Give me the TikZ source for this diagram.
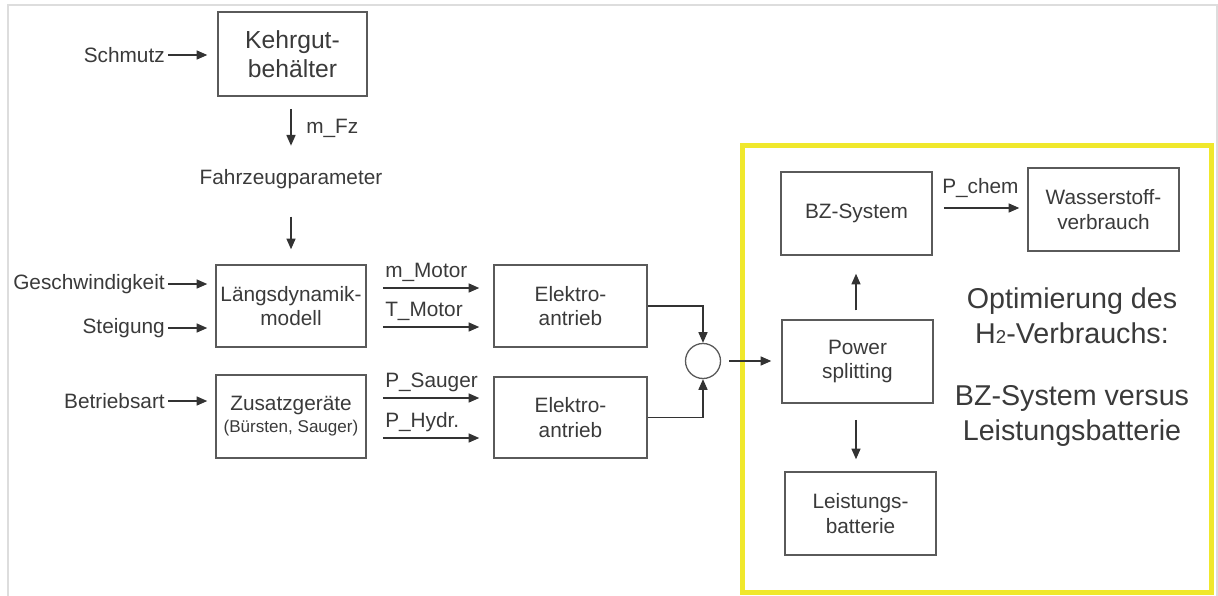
\documentclass[tikz,border=0pt]{standalone}
\usepackage{fontspec}
\setmainfont{Liberation Sans}
\usetikzlibrary{arrows.meta}
\newdimen\upx \upx=0.75pt
\definecolor{txt}{HTML}{3A3A3A}
\definecolor{boxc}{HTML}{5A5A5A}
\definecolor{lin}{HTML}{333333}
\definecolor{yel}{HTML}{F0E82C}
\definecolor{frm}{HTML}{DDDDDD}
\newcommand\fsnorm{\fontsize{15.6}{18.5}\selectfont}
\newcommand\fskehr{\fontsize{18.5}{22}\selectfont}
\newcommand\fssmall{\fontsize{12.8}{15}\selectfont}
\newcommand\fsbig{\fontsize{21.5}{26}\selectfont}
\begin{document}
\begin{tikzpicture}[x=0.75pt,y=-0.75pt,
  box/.style={draw=boxc, line width=1.5\upx, minimum width=151\upx, minimum height=83\upx,
    align=center, text=txt, font=\fsnorm, inner sep=0pt},
  lab/.style={text=txt, font=\fsnorm, inner sep=0pt},
  arr/.style={draw=lin, line width=1.3\upx, -{Triangle[length=8pt,width=6.8pt]}}]
\useasboundingbox (0,0) rectangle (1218,596);
\draw[frm, line width=1.5\upx] (8,596) -- (8,5) -- (1217,5) -- (1217,596);
\draw[yel, line width=5\upx] (742,145) rectangle (1211,592);

% left column
\node[box, font=\fskehr, minimum width=149\upx, minimum height=84\upx] (kehr) at (292.5,54) {Kehrgut-\\behälter};
\node[lab, anchor=east] (schmutz) at (165,55) {Schmutz};
\draw[arr, shorten <=3\upx, shorten >=10\upx] (schmutz.east) -- (schmutz.east -| kehr.west);
\node[lab, anchor=base] (fzp) at (291,184) {Fahrzeugparameter};
\draw[arr, shorten <=12\upx, shorten >=23\upx] (kehr.south -| fzp.north) -- (fzp.north);
\node[lab, anchor=base west] (mfz) at (306,133) {m\_Fz};

\node[box, minimum width=150\upx, minimum height=82\upx] (laengs) at (291,306) {Längsdynamik-\\modell};
\draw[arr, shorten <=28\upx, shorten >=15\upx] (fzp.south) -- (fzp.south |- laengs.north);
\node[lab, anchor=east] (gesch) at (165,284) {Geschwindigkeit};
\node[lab, anchor=east] (steig) at (165,328) {Steigung};
\draw[arr, shorten <=3\upx, shorten >=8\upx] (gesch.east) -- (gesch.east -| laengs.west);
\draw[arr, shorten <=3\upx, shorten >=8\upx] (steig.east) -- (steig.east -| laengs.west);

\node[box, minimum width=150\upx, minimum height=83\upx] (zusatz) at (291,416.5) {Zusatzgeräte\\[-2pt]{\fssmall(Bürsten, Sauger)}};
\node[lab, anchor=east] (betrieb) at (165,401) {Betriebsart};
\draw[arr, shorten <=3\upx, shorten >=8\upx] (betrieb.east) -- (betrieb.east -| zusatz.west);

% electric drives
\node[box, minimum width=153\upx, minimum height=82\upx] (elek1) at (570.5,306) {Elektro-\\antrieb};
\node[box, minimum width=153\upx, minimum height=81\upx] (elek2) at (570.5,417.5) {Elektro-\\antrieb};

\draw[arr, shorten <=16\upx, shorten >=14\upx] ([yshift=18\upx]laengs.east) -- ([yshift=18\upx]elek1.west);
\draw[arr, shorten <=16\upx, shorten >=14\upx] ([yshift=-21\upx]laengs.east) -- ([yshift=-21\upx]elek1.west);
\draw[arr, shorten <=16\upx, shorten >=14\upx] ([yshift=18.5\upx]zusatz.east) -- ([yshift=19.5\upx]elek2.west);
\draw[arr, shorten <=16\upx, shorten >=14\upx] ([yshift=-21.5\upx]zusatz.east) -- ([yshift=-20.5\upx]elek2.west);
\node[lab, anchor=base west] (lm) at (385,277) {m\_Motor};
\node[lab, anchor=base west] (lt) at (385,316) {T\_Motor};
\node[lab, anchor=base west] (ls) at (385,387) {P\_Sauger};
\node[lab, anchor=base west] (lh) at (385,427) {P\_Hydr.};

% summation
\node[circle, draw=boxc, line width=1.3\upx, minimum size=35\upx, inner sep=0pt] (sum) at (703,361) {};
\draw[arr] (elek1.east) -| (sum.north);
\draw[arr] (elek2.east) -| (sum.south);

% right part
\node[box] (power) at (857.5,361.5) {Power\\splitting};
\draw[arr, shorten <=8\upx, shorten >=10\upx] (sum.east) -- (sum.east -| power.west);
\node[box] (bz) at (856.5,213.5) {BZ-System};
\node[box] (wasser) at (1103.5,209.5) {Wasserstoff-\\verbrauch};
\node[box] (leist) at (860.5,513.5) {Leistungs-\\batterie};
\draw[arr, shorten <=11\upx, shorten >=8\upx] ([yshift=1.5\upx]bz.east |- wasser.west) -- ([yshift=1.5\upx]wasser.west);
\node[lab, anchor=base west] (pchem) at (942,193) {P\_chem};
\draw[arr, shorten <=9\upx, shorten >=18\upx] ([xshift=-1.5\upx]power.north) -- ([xshift=-1.5\upx]power.north |- bz.south);
\draw[arr, shorten <=16\upx, shorten >=12\upx] ([xshift=-1.5\upx]power.south) -- ([xshift=-1.5\upx]power.south |- leist.north);

\node[text=txt, font=\fsbig, align=center, inner sep=0pt] (opt) at (1072,316) {Optimierung des\\H{\fontsize{14}{14}\selectfont 2}-Verbrauchs:};
\node[text=txt, font=\fsbig, align=center, inner sep=0pt] (vs) at (1072,416) {BZ-System versus\\Leistungsbatterie};
\end{tikzpicture}
\end{document}
